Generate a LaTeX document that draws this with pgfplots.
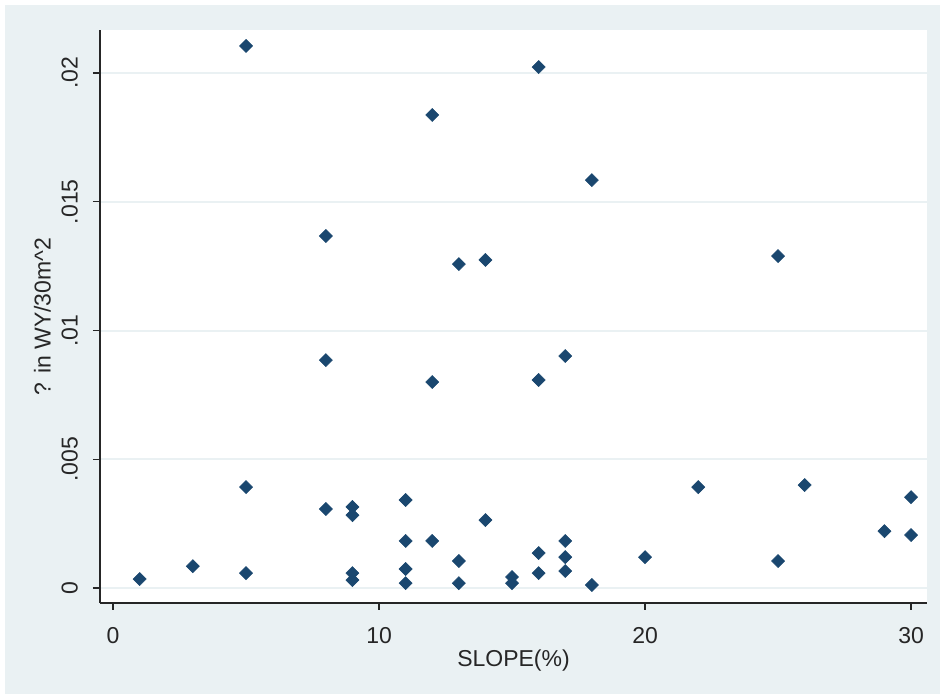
\documentclass[border=0pt]{standalone}
\usepackage{fontspec}
\setmainfont{Liberation Sans}
\usepackage{pgfplots}
\usepackage{pgfplotstable}
\pgfplotsset{compat=1.18}
\definecolor{bgc}{HTML}{EAF1F3}
\definecolor{navy}{HTML}{1A476F}

\pgfplotstableread{
x y
1 0.00035
3 0.00085
5 0.02105
5 0.00392
5 0.00058
8 0.01367
8 0.00885
8 0.00307
9 0.00315
9 0.00283
9 0.00058
9 0.00031
11 0.00342
11 0.00183
11 0.00074
11 0.00019
12 0.01837
12 0.00800
12 0.00183
13 0.01258
13 0.00105
13 0.00019
14 0.01274
14 0.00264
15 0.00043
15 0.00019
16 0.02023
16 0.00808
16 0.00136
16 0.00058
17 0.00901
17 0.00183
17 0.00120
17 0.00066
18 0.01584
18 0.00012
20 0.00120
22 0.00392
25 0.01289
25 0.00105
26 0.00400
29 0.00221
30 0.00353
30 0.00206
}\datatable

\begin{document}
\begin{tikzpicture}
\fill[white] (-50pt,-45.5pt) rectangle (420pt,301.5pt);
\fill[bgc] (-47.5pt,-45.5pt) rectangle (420pt,299pt);
\begin{axis}[
  at={(0,0)}, anchor=south west, scale only axis,
  width=413.5pt, height=286.5pt,
  xmin=-0.49, xmax=30.6, ymin=-0.00058, ymax=0.02167,
  axis x line=bottom, axis y line=left,
  axis line style={-, line width=0.9pt, black!85},
  axis background/.style={fill=white},
  xtick={0,10,20,30}, xticklabels={0,10,20,30},
  ytick={0,0.005,0.01,0.015,0.02}, yticklabels={0,.005,.01,.015,.02},
  scaled y ticks=false,
  /pgf/number format/assume math mode=true,
  tick align=outside, major tick length=3.5pt,
  tick style={black!85, line width=0.6pt},
  ymajorgrids, major grid style={bgc, line width=1pt},
  every tick label/.append style={font=\fontsize{11.5}{13}\selectfont, text=black!85},
  yticklabel style={rotate=90, anchor=south},
  yticklabel shift=4pt,
  xticklabel shift=5pt,
  xlabel={SLOPE(\%)},
  ylabel={? in WY/30m\^{}2},
  xlabel style={font=\fontsize{11.5}{13}\selectfont, text=black!85, at={(axis description cs:0.5,0)}, anchor=north, yshift=-20pt},
  ylabel style={font=\fontsize{11.5}{13}\selectfont, text=black!85, at={(axis description cs:-0.059,0.5)}, anchor=south, inner sep=0pt},
  clip=false,
]
\addplot[only marks, mark=square*, mark size=2.3pt,
  mark options={rotate=45, fill=navy, draw=navy, line width=0.3pt}]
  table[x=x, y=y] {\datatable};
\end{axis}
\end{tikzpicture}
\end{document}
